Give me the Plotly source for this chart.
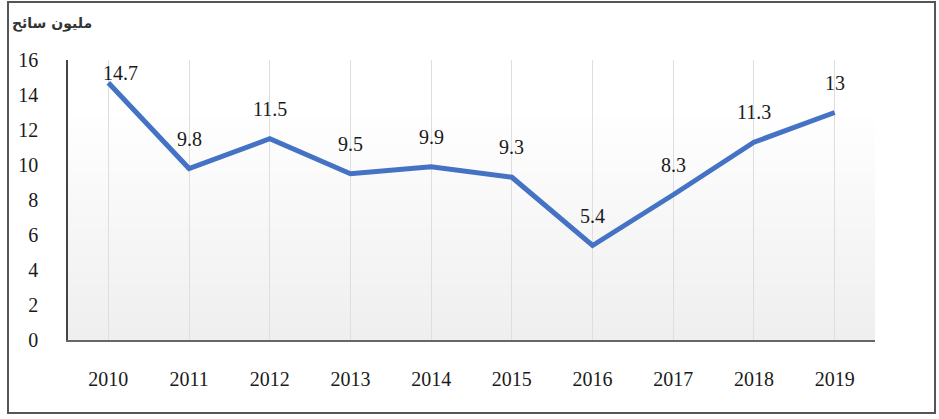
import plotly.graph_objects as go

years = ["2010", "2011", "2012", "2013", "2014", "2015", "2016", "2017", "2018", "2019"]
tourists = [14.7, 9.8, 11.5, 9.5, 9.9, 9.3, 5.4, 8.3, 11.3, 13]
y_ticks = [0, 2, 4, 6, 8, 10, 12, 14, 16]
unit_label = "مليون سائح"

W, H = 939, 419
L, R, T, B = 68, 64, 60, 79
pw, ph = W - L - R, H - T - B
SERIF = "'Liberation Serif', 'Times New Roman', serif"

fig = go.Figure()

# gradient background bands (grey at bottom fading to white)
n = 40
for i in range(n):
    y0 = i / n
    y1 = (i + 1) / n
    f = min(1.0, y0 / 0.8)
    g = int(239 + (255 - 239) * f)
    fig.add_shape(type="rect", xref="paper", yref="paper", x0=0, x1=1, y0=y0, y1=y1,
                  fillcolor=f"rgb({g},{g},{g})", line=dict(width=0), layer="below")

fig.add_trace(go.Scatter(
    x=years, y=tourists, mode="lines",
    line=dict(color="#4472C4", width=5),
    hoverinfo="skip", showlegend=False,
))

for i, v in enumerate(tourists):
    xs, ys = (12, 10) if i == 0 else (0, 30)
    fig.add_annotation(x=i, y=v, text=f"{v:g}", showarrow=False,
                       xshift=xs, yshift=ys,
                       font=dict(family=SERIF, size=20, color="#1a1a1a"))

# outer border
fig.add_shape(type="rect", xref="paper", yref="paper",
              x0=(8 - L) / pw, x1=(935 - L) / pw,
              y0=(H - B - 413) / ph, y1=(H - B - 2) / ph,
              line=dict(color="#555", width=2), fillcolor="rgba(0,0,0,0)")

fig.add_annotation(xref="paper", yref="paper", x=(52 - L) / pw, y=(H - B - 23) / ph,
                   text=f"<b>{unit_label}</b>", showarrow=False, xanchor="center", yanchor="middle",
                   font=dict(family="DejaVu Sans", size=14, color="#333"))

fig.update_layout(
    width=W, height=H,
    margin=dict(l=L, r=R, t=T, b=B),
    paper_bgcolor="white", plot_bgcolor="rgba(0,0,0,0)",
    xaxis=dict(
        type="category", range=[-0.5, len(years) - 0.5],
        showgrid=True, gridcolor="#dedede", gridwidth=1,
        showline=True, linecolor="#666", linewidth=2,
        ticks="", ticklabelstandoff=20,
        tickfont=dict(family=SERIF, size=20, color="#1a1a1a"),
        zeroline=False, fixedrange=True,
    ),
    yaxis=dict(
        range=[0, 16], tickvals=y_ticks, showgrid=False,
        showline=True, linecolor="#444", linewidth=1.5,
        ticks="", ticklabelstandoff=24,
        tickfont=dict(family=SERIF, size=20, color="#1a1a1a"),
        zeroline=False, fixedrange=True,
    ),
)

fig.write_html("out.html")
